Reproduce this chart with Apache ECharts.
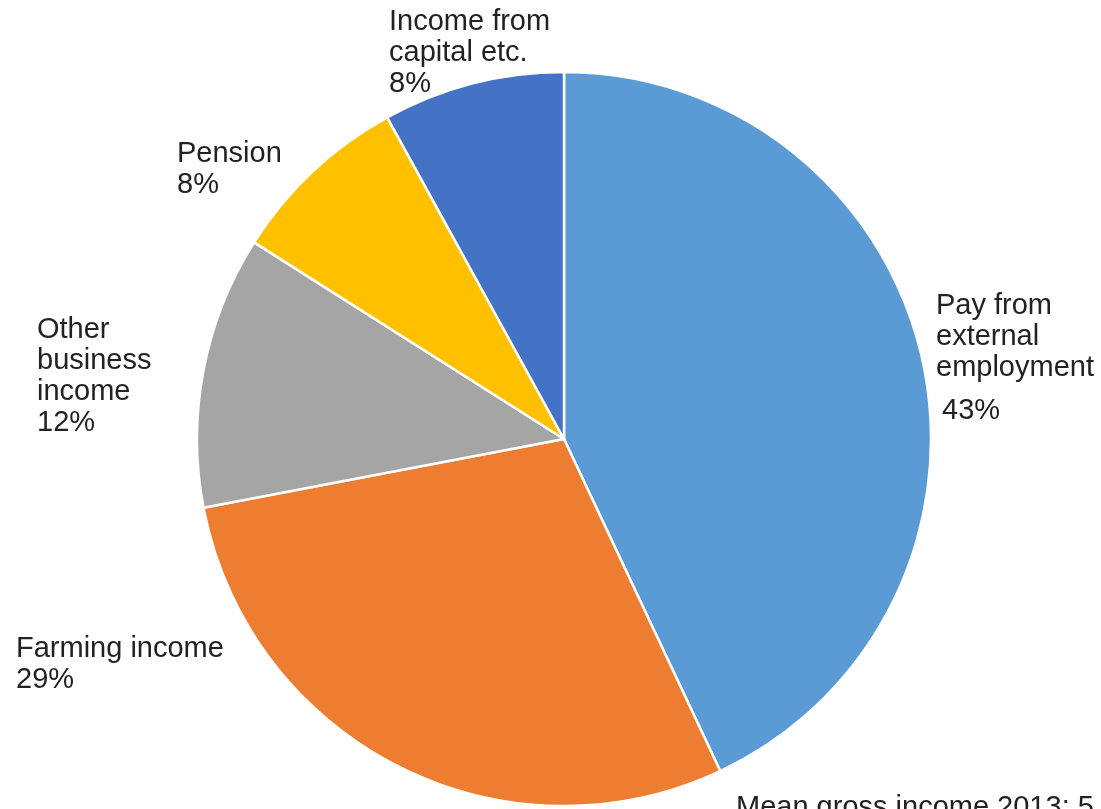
<!DOCTYPE html>
<html>
<head>
<meta charset="utf-8">
<script src="https://cdn.jsdelivr.net/npm/echarts@6/dist/echarts.min.js"></script>
<style>
  html, body { margin: 0; padding: 0; background: #fff; }
  #chart { width: 1101px; height: 809px; }
</style>
</head>
<body>
<div id="chart"></div>
<script>
// Income sources, share of mean gross income (%)
const categories = [
  'Pay from\nexternal\nemployment',
  'Farming income',
  'Other\nbusiness\nincome',
  'Pension',
  'Income from\ncapital etc.'
];
const shares = [43, 29, 12, 8, 8];
const sliceColors = ['#5B9BD5', '#ED7D31', '#A5A5A5', '#FFC000', '#4472C4'];
const footnote = 'Mean gross income 2013: 5';

// Where each slice label block sits (left/top of the text block)
const labelSpots = [
  { x: 936, y: 290 },
  { x: 16, y: 633 },
  { x: 37, y: 314 },
  { x: 177, y: 138 },
  { x: 389, y: 6 }
];

const FONT = '"Liberation Sans", Arial, sans-serif';
const FS = 29;

const chart = echarts.init(document.getElementById('chart'), null, { renderer: 'canvas' });

chart.setOption({
  backgroundColor: '#ffffff',
  animation: false,
  series: [{
    type: 'pie',
    center: [564, 439],
    radius: 367,
    startAngle: 90,
    clockwise: true,
    avoidLabelOverlap: false,
    itemStyle: { borderColor: '#ffffff', borderWidth: 2.5 },
    emphasis: { disabled: true },
    labelLine: { show: false },
    label: {
      show: true,
      position: 'outside',
      formatter: function (p) {
        const names = p.name.split('\n').map(function (s) { return '{n|' + s + '}'; }).join('\n');
        const key = p.dataIndex === 0 ? 'p0' : 'p';
        return names + '\n{' + key + '|' + p.value + '%}';
      },
      rich: {
        n: { fontFamily: FONT, fontSize: FS, color: '#222222', lineHeight: 31 },
        p: { fontFamily: FONT, fontSize: FS, color: '#222222', lineHeight: 31 },
        p0: { fontFamily: FONT, fontSize: FS, color: '#222222', lineHeight: 55, padding: [0, 0, 0, 6] }
      }
    },
    labelLayout: function (params) {
      const s = labelSpots[params.dataIndex];
      return { x: s.x, y: s.y, align: 'left', verticalAlign: 'top' };
    },
    data: categories.map(function (name, i) {
      return { name: name, value: shares[i], itemStyle: { color: sliceColors[i] } };
    })
  }],
  graphic: [{
    type: 'text',
    left: 736,
    top: 793,
    style: {
      text: footnote,
      font: FS + 'px ' + FONT,
      fill: '#222222'
    }
  }]
});
</script>
</body>
</html>
